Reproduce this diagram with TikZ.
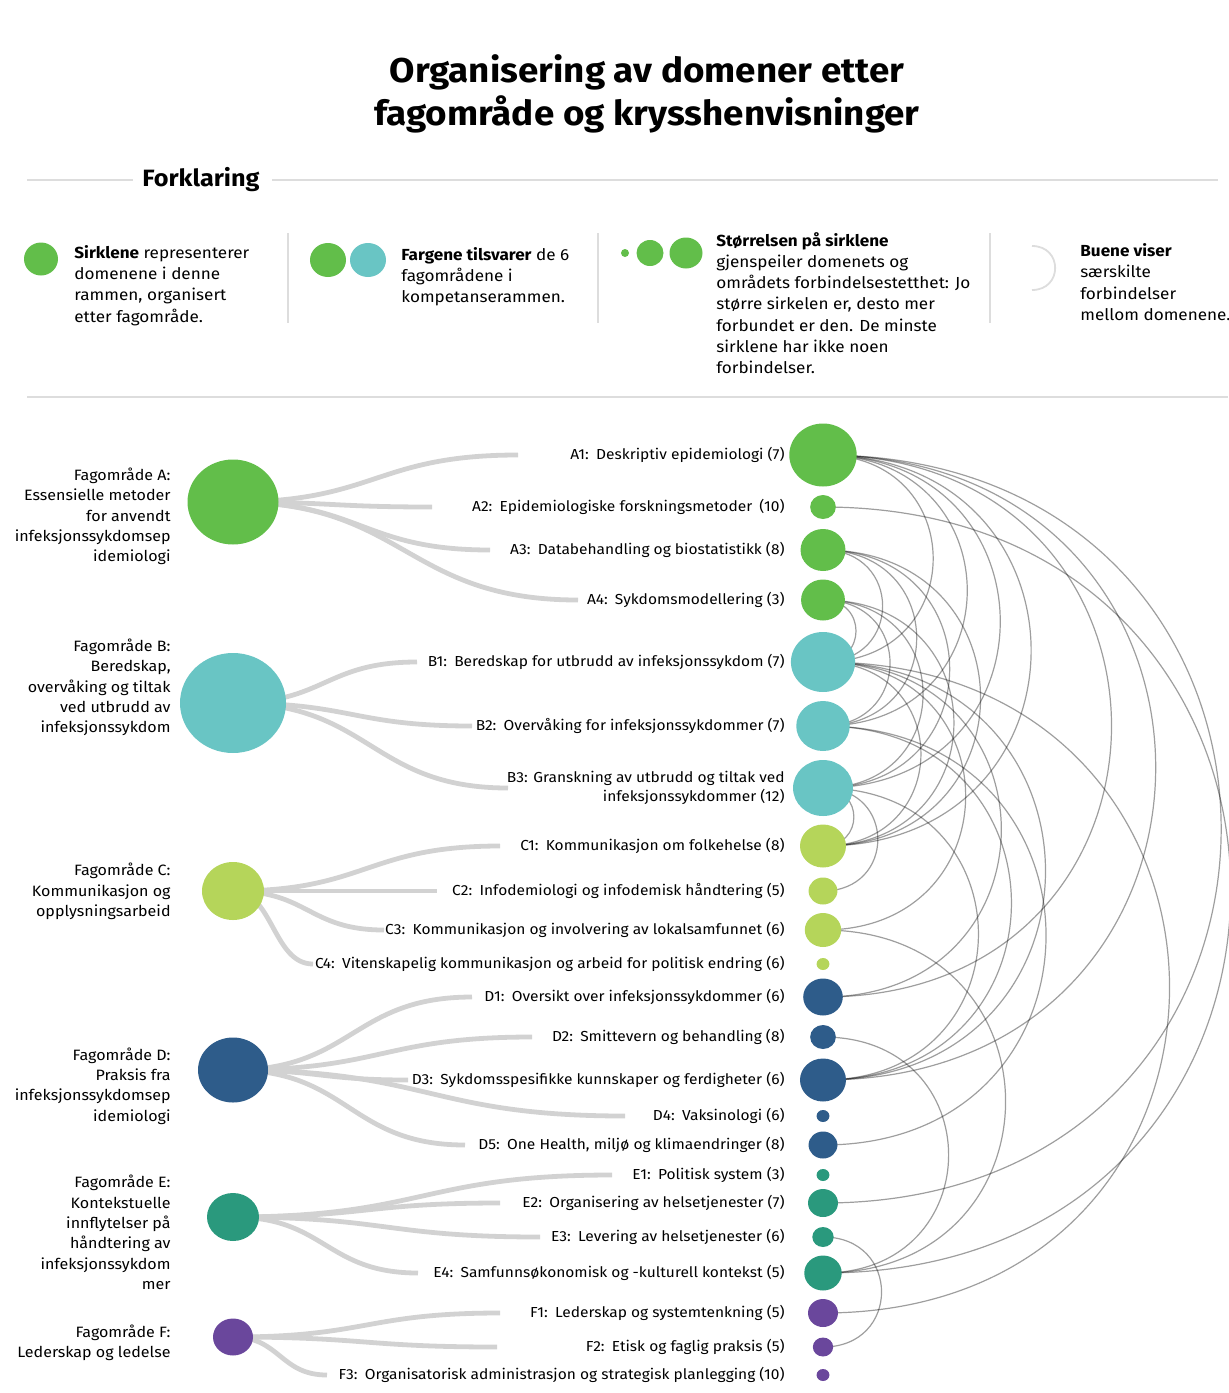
\documentclass[tikz,border=0pt]{standalone}
\usepackage{fontspec}
\setmainfont{Fira Sans}[FakeStretch=1.07]
\usetikzlibrary{shapes.geometric,calc,backgrounds}

\definecolor{fagA}{HTML}{62BE4A}
\definecolor{fagB}{HTML}{69C5C4}
\definecolor{fagC}{HTML}{B5D55A}
\definecolor{fagD}{HTML}{2E5C8A}
\definecolor{fagE}{HTML}{2A997D}
\definecolor{fagF}{HTML}{6A479C}
\definecolor{rulegray}{HTML}{DDDDDD}
\definecolor{branchgray}{HTML}{D2D2D2}

\begin{document}
\begin{tikzpicture}[x=0.5pt,y=-0.5pt,
    dom/.style={ellipse,inner sep=0pt},
    grp/.style={ellipse,inner sep=0pt},
    lab/.style={anchor=east,inner sep=0pt,align=right,font=\fontsize{7.25}{9.6}\selectfont},
    area/.style={anchor=east,inner sep=0pt,align=right,font=\fontsize{7.5}{10.15}\selectfont},
    legtext/.style={anchor=west,inner sep=0pt,align=left,font=\fontsize{8}{10.6}\selectfont},
    branch/.style={draw=branchgray,line width=2.4pt},
    link/.style={draw=black,opacity=.38,line width=.6pt},
    rule/.style={draw=rulegray,line width=.6pt}]

\useasboundingbox (0,0) rectangle (1228,1393);

% title and legend
\node[font=\fontsize{17.2}{21.5}\selectfont\bfseries,align=center] (title) at (647,94)
  {Organisering av domener etter\\fagområde og krysshenvisninger};
\node[font=\fontsize{11.8}{14}\selectfont\bfseries] (forkl) at (201,180) {Forklaring};
\draw[rule] (27,180) -- (133,180);
\draw[rule] (272,180) -- (1218,180);

\node[grp,fill=fagA,minimum width=17pt,minimum height=16.5pt] (leg1) at (41,259) {};
\node[legtext] (legt1) at (74,285.5)
  {\textbf{Sirklene} representerer\\domenene i denne\\rammen, organisert\\etter fagområde.};
\draw[rule] (288,233) -- (288,323);

\node[grp,fill=fagA,minimum width=18pt,minimum height=17pt] (leg2a) at (328,260) {};
\node[grp,fill=fagB,minimum width=18pt,minimum height=17pt] (leg2b) at (368,260) {};
\node[legtext] (legt2) at (401,276.5)
  {\textbf{Fargene tilsvarer} de 6\\fagområdene i\\kompetanserammen.};
\draw[rule] (598,233) -- (598,323);

\node[grp,fill=fagA,minimum size=4pt] (leg3a) at (625,253) {};
\node[grp,fill=fagA,minimum width=13.5pt,minimum height=13pt] (leg3b) at (650,253) {};
\node[grp,fill=fagA,minimum width=16.5pt,minimum height=15.5pt] (leg3c) at (686,253) {};
\node[legtext] (legt3) at (716,303)
  {\textbf{Størrelsen på sirklene}\\gjenspeiler domenets og\\områdets forbindelsestetthet: Jo\\større sirkelen er, desto mer\\forbundet er den. De minste\\sirklene har ikke noen\\forbindelser.};
\draw[rule] (990,233) -- (990,323);

\coordinate (leg4a) at (1032,246);
\coordinate (leg4b) at (1032,290);
\draw[rule,line width=.9pt] (leg4a) to[out=0,in=0,looseness=1.8] (leg4b);
\node[legtext] (legt4) at (1080,282)
  {\textbf{Buene viser}\\særskilte\\forbindelser\\mellom domenene.};
\draw[rule] (27,397) -- (1228,397);

% fagomraader
\node[grp,fill=fagA,minimum width=45.5pt,minimum height=42.5pt] (GA) at (233,502) {};
\node[grp,fill=fagB,minimum width=53pt,minimum height=50pt] (GB) at (233,703) {};
\node[grp,fill=fagC,minimum width=31pt,minimum height=29pt] (GC) at (233,891) {};
\node[grp,fill=fagD,minimum width=35pt,minimum height=32.5pt] (GD) at (233,1070) {};
\node[grp,fill=fagE,minimum width=26pt,minimum height=24pt] (GE) at (233,1217) {};
\node[grp,fill=fagF,minimum width=20pt,minimum height=18.5pt] (GF) at (233,1337) {};

\node[area] (tGA) at (171,516.5) {Fagområde A:\\Essensielle metoder\\for anvendt\\infeksjonssykdomsep\\idemiologi};
\node[area] (tGB) at (171,687.5) {Fagområde B:\\Beredskap,\\overvåking og tiltak\\ved utbrudd av\\infeksjonssykdom};
\node[area] (tGC) at (171,891.5) {Fagområde C:\\Kommunikasjon og\\opplysningsarbeid};
\node[area] (tGD) at (171,1086) {Fagområde D:\\Praksis fra\\infeksjonssykdomsep\\idemiologi};
\node[area] (tGE) at (171,1232.5) {Fagområde E:\\Kontekstuelle\\innflytelser på\\håndtering av\\infeksjonssykdom\\mer};
\node[area] (tGF) at (171,1343) {Fagområde F:\\Lederskap og ledelse};

% domener
\foreach \nm/\yy/\rr/\col/\ex/\txt in {
  A1/455/31.5/fagA/518/{A1:\enspace Deskriptiv epidemiologi (7)},
  A2/507/12/fagA/432/{A2:\enspace Epidemiologiske forskningsmetoder\enspace(10)},
  A3/550/21/fagA/490/{A3:\enspace Databehandling og biostatistikk (8)},
  A4/600/20.5/fagA/578/{A4:\enspace Sykdomsmodellering (3)},
  B1/662/30/fagB/417/{B1:\enspace Beredskap for utbrudd av infeksjonssykdom (7)},
  B2/726/25/fagB/472/{B2:\enspace Overvåking for infeksjonssykdommer (7)},
  B3/788/28/fagB/508/{B3: Granskning av utbrudd og tiltak ved\\infeksjonssykdommer (12)},
  C1/846/21.5/fagC/500/{C1:\enspace Kommunikasjon om folkehelse (8)},
  C2/891/13.5/fagC/437/{C2:\enspace Infodemiologi og infodemisk håndtering (5)},
  C3/930/17/fagC/384/{C3:\enspace Kommunikasjon og involvering av lokalsamfunnet (6)},
  C4/964/6/fagC/313/{C4:\enspace Vitenskapelig kommunikasjon og arbeid for politisk endring (6)},
  D1/997/18.5/fagD/472/{D1:\enspace Oversikt over infeksjonssykdommer (6)},
  D2/1037/12/fagD/532/{D2:\enspace Smittevern og behandling (8)},
  D3/1080/21.5/fagD/408/{D3:\enspace Sykdomsspesifikke kunnskaper og ferdigheter (6)},
  D4/1116/6/fagD/625/{D4:\enspace Vaksinologi (6)},
  D5/1145/13.5/fagD/465/{D5:\enspace One Health, miljø og klimaendringer (8)},
  E1/1175/6/fagE/612/{E1:\enspace Politisk system (3)},
  E2/1203/14/fagE/500/{E2:\enspace Organisering av helsetjenester (7)},
  E3/1237/10/fagE/540/{E3:\enspace Levering av helsetjenester (6)},
  E4/1273/17.5/fagE/418/{E4:\enspace Samfunnsøkonomisk og -kulturell kontekst (5)},
  F1/1313/14/fagF/500/{F1:\enspace Lederskap og systemtenkning (5)},
  F2/1347/9.5/fagF/497/{F2:\enspace Etisk og faglig praksis (5)},
  F3/1375/6/fagF/327/{F3:\enspace Organisatorisk administrasjon og strategisk planlegging (10)}}
{
  \node[dom,fill=\col,minimum height=\rr pt,minimum width=1.07*\rr pt] (\nm) at (823,\yy) {};
  \node[lab] (t\nm) at (785,\yy) {\txt};
  \coordinate (e\nm) at (\ex,\yy);
}

\begin{pgfonlayer}{background}
% grener fra fagomraade til domene
\foreach \g/\d in {GA/A1,GA/A2,GA/A3,GA/A4,GB/B1,GB/B2,GB/B3,
                   GC/C1,GC/C2,GC/C3,GC/C4,GD/D1,GD/D2,GD/D3,GD/D4,GD/D5,
                   GE/E1,GE/E2,GE/E3,GE/E4,GF/F1,GF/F2,GF/F3}
  \draw[branch] let \p1=(\g.center), \p2=(e\d) in
    (\p1) .. controls ({(\x1+\x2)/2},\y1) and ({(\x1+\x2)/2},\y2) .. (\p2);

% krysshenvisninger
\foreach \a/\b in {A1/B1,A1/B2,A1/B3,A1/C1,A1/D1,A1/D3,A1/E2,
                   A2/E4,
                   A3/B1,A3/B2,A3/B3,A3/C1,
                   A4/B1,A4/B2,A4/B3,A4/C1,
                   B1/C1,B1/C3,B1/D1,B1/D3,B1/F1,
                   B2/D3,B2/D5,
                   B3/C1,B3/C2,B3/D3,
                   C3/E4,D2/E4,E3/F2}
  \draw[link] (\a.center) to[out=0,in=0,looseness=1.82] (\b.center);
\end{pgfonlayer}

\end{tikzpicture}
\end{document}
